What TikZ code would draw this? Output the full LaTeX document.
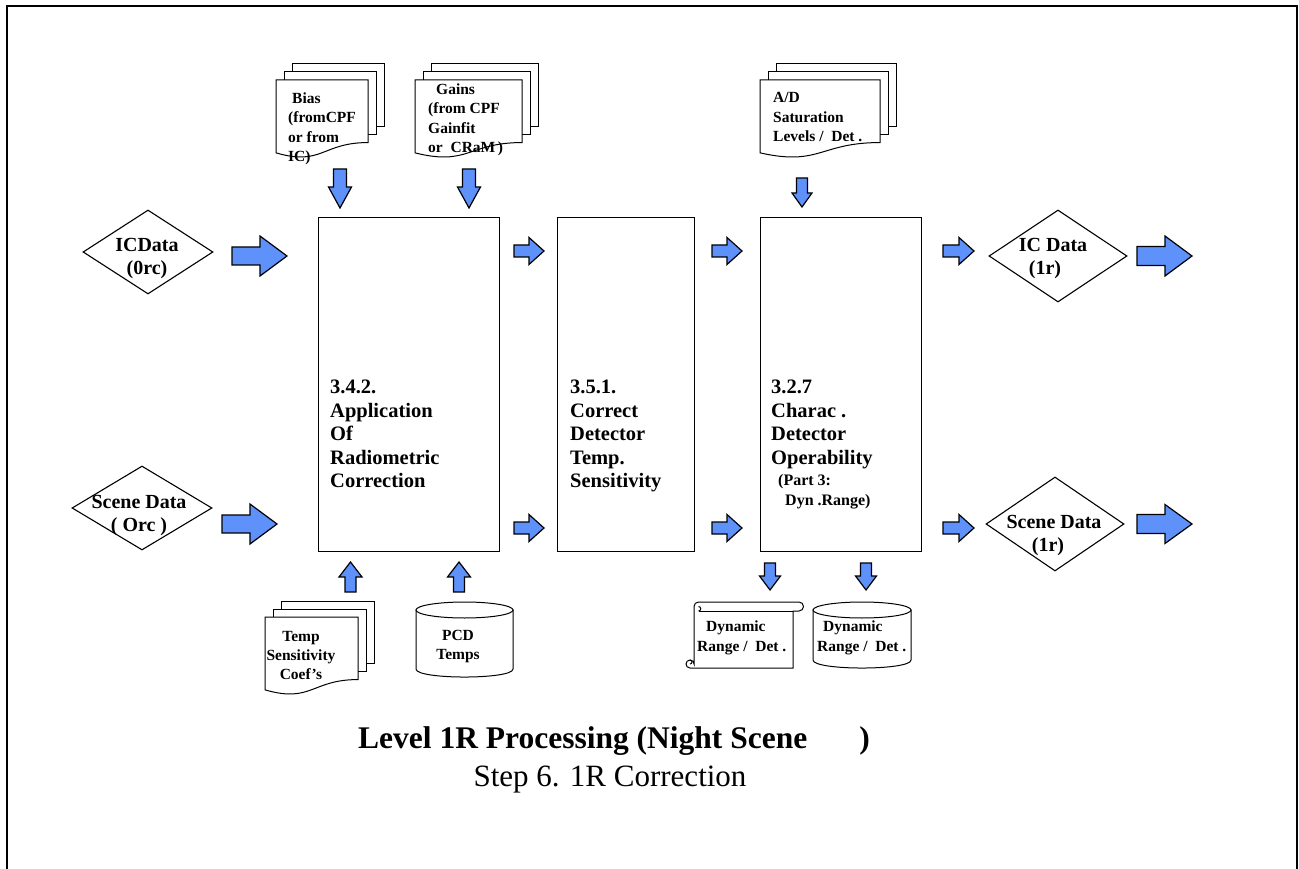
\documentclass[tikz,border=0pt]{standalone}
\usepackage{fontspec}
\setmainfont{Liberation Serif}
\usetikzlibrary{shapes.geometric}
\definecolor{arrowblue}{RGB}{95,145,250}

% block arrows: right, down (tip at bottom), up (tip at top)
% args: x, y (right) / top (down) / tip (up), length, head length, shaft half-width, head half-width
\newcommand{\arrR}[6]{%
  \draw[blockarrow] (#1,{#2-#5}) -- ({#1+#3-#4},{#2-#5}) -- ({#1+#3-#4},{#2-#6}) -- ({#1+#3},#2)
    -- ({#1+#3-#4},{#2+#6}) -- ({#1+#3-#4},{#2+#5}) -- (#1,{#2+#5}) -- cycle;}
\newcommand{\arrD}[6]{%
  \draw[blockarrow] ({#1-#5},#2) -- ({#1+#5},#2) -- ({#1+#5},{#2+#3-#4}) -- ({#1+#6},{#2+#3-#4})
    -- (#1,{#2+#3}) -- ({#1-#6},{#2+#3-#4}) -- ({#1-#5},{#2+#3-#4}) -- cycle;}
\newcommand{\arrU}[6]{%
  \draw[blockarrow] (#1,#2) -- ({#1+#6},{#2+#4}) -- ({#1+#5},{#2+#4}) -- ({#1+#5},{#2+#3})
    -- ({#1-#5},{#2+#3}) -- ({#1-#5},{#2+#4}) -- ({#1-#6},{#2+#4}) -- cycle;}
% stacked document pages: x0, top, width, height, page offset
\newcommand{\multidoc}[5]{%
  \draw[docline] ({#1+2*#5},{#2-2*#5}) rectangle ({#1+#3+2*#5},{#2+0.802*#4-2*#5});
  \draw[docline] ({#1+#5},{#2-#5}) rectangle ({#1+#3+#5},{#2+0.802*#4-#5});
  \draw[docline] (#1,#2) -- ({#1+#3},#2) -- ({#1+#3},{#2+0.802*#4})
    .. controls ({#1+0.5*#3},{#2+0.802*#4}) and ({#1+0.5*#3},{#2+1.107*#4}) .. (#1,{#2+0.934*#4}) -- cycle;}

\tikzset{
  blockarrow/.style={draw=black, line width=1.2, fill=arrowblue, line join=miter},
  procbox/.style={draw, line width=1.3, fill=white, inner sep=0, anchor=north west},
  datadiamond/.style={diamond, draw, line width=1.1, fill=white, inner sep=0},
  docline/.style={draw, line width=1, fill=white},
  boxtext/.style={font=\fontsize{20.5}{23.5}\selectfont\bfseries, align=left, inner sep=0, anchor=north west},
  smallboxtext/.style={font=\fontsize{16}{20}\selectfont\bfseries, align=left, inner sep=0, anchor=north west},
  dtext/.style={font=\fontsize{20}{23}\selectfont\bfseries, align=center, inner sep=0, anchor=north},
  doctext/.style={font=\fontsize{15.5}{19.3}\selectfont\bfseries, align=left, inner sep=0, anchor=north west},
  doctextc/.style={font=\fontsize{15.5}{18.8}\selectfont\bfseries, align=center, inner sep=0, anchor=north},
}

\begin{document}
\begin{tikzpicture}[x=1pt,y=-1pt]
\useasboundingbox (0,0) rectangle (1299,869);
\fill[white] (0,0) rectangle (1299,869);
\draw[line width=2] (7,869) -- (7,6) -- (1297,6) -- (1297,869);

% processing steps
\node[procbox, minimum width=181, minimum height=334] (radcorr) at (318,217) {};
\node[procbox, minimum width=137, minimum height=334] (tempsens) at (557,217) {};
\node[procbox, minimum width=161, minimum height=334] (operab) at (760,217) {};
\node[boxtext] (radcorr-t) at (330,380) {3.4.2.\\Application\\Of\\Radiometric\\Correction};
\node[boxtext] (tempsens-t) at (570,380) {3.5.1.\\Correct\\Detector\\Temp.\\Sensitivity};
\node[boxtext] (operab-t) at (771,380) {3.2.7\\Charac .\\Detector\\Operability};
\node[smallboxtext] (operab-s) at (778,474) {(Part 3:\\\hspace*{7pt}Dyn .Range)};

% data inputs and outputs
\node[datadiamond, minimum width=130, minimum height=84] (icin) at (148,252) {};
\node[datadiamond, minimum width=140, minimum height=84] (scin) at (142,508) {};
\node[datadiamond, minimum width=138, minimum height=92] (icout) at (1058,256) {};
\node[datadiamond, minimum width=138, minimum height=94] (scout) at (1055,524) {};
\node[dtext] (icin-t) at (147,238) {ICData\\(0rc)};
\node[dtext] (scin-t) at (139,495) {Scene Data\\( Orc )};
\node[dtext] (icout-t) at (1053,238) {IC Data\\(1r)\hspace*{16pt}};
\node[dtext] (scout-t) at (1054,515) {Scene Data\\(1r)\hspace*{12pt}};

% flow arrows
\arrR{232}{256}{55}{27}{9}{20}
\arrR{222}{524}{55}{27}{9}{20}
\arrR{1137}{256}{55}{27}{9.5}{20}
\arrR{1137}{524}{55}{27}{9.5}{19.5}
\arrR{514}{251}{30}{15}{6}{13.5}
\arrR{712}{251}{30}{15}{6}{13.5}
\arrR{943}{251}{31}{15}{6}{13.5}
\arrR{514}{528}{30}{15}{6}{13.5}
\arrR{712}{528}{30}{15}{6}{13.5}
\arrR{943}{528}{31}{15}{6}{13.5}

% auxiliary inputs above
\multidoc{276}{80}{92}{78}{8}
\multidoc{415}{80}{107}{78}{8}
\multidoc{760}{80}{120}{78}{8}
\node[doctext] (bias) at (288,92.5) {\hspace*{4pt}Bias\\(fromCPF\\or from\\IC)};
\node[doctext] (gains) at (428,83.5) {\hspace*{8pt}Gains\\(from CPF\\Gainfit\\or\enspace CRaM\,)};
\node[doctext] (adsat) at (773,92.5) {A/D\\Saturation\\Levels /\enspace Det .};
\arrD{340}{169}{39}{21}{6.5}{11.5}
\arrD{469}{169}{39}{21}{6.5}{11.5}
\arrD{802}{178}{29}{14}{5.5}{10}

% auxiliary inputs below
\multidoc{265}{617}{93}{78}{8}
\node[doctextc] (tcoef) at (301,631.5) {Temp\\Sensitivity\\Coef’s};
\draw[docline] (416,610) -- (416,669) .. controls (416,679.7) and (513,679.7) .. (513,669) -- (513,610) -- cycle;
\draw[docline] (464.5,610) ellipse [x radius=48.5, y radius=8];
\node[doctextc] (pcd) at (458,630.5) {PCD\\Temps};
\arrU{350.5}{562}{30}{15}{5.5}{11.5}
\arrU{459}{562}{30}{15}{5.5}{11.5}

% outputs below
\draw[docline] (698.5,602) -- (799,602) arc[start angle=-90, end angle=90, radius=4.5] -- (793,611)
  -- (793,668) -- (690,668) arc[start angle=90, end angle=360, radius=4] -- (694,606.5)
  arc[start angle=180, end angle=270, radius=4.5] -- cycle;
\draw[line width=1] (698.5,611) -- (793,611);
\draw[line width=1] (698.5,611) arc[start angle=90, end angle=-90, radius=2.25];
\draw[line width=1] (690,660) arc[start angle=270, end angle=450, radius=2];
\node[doctext] (dynscroll) at (697,621) {\hspace*{9pt}Dynamic\\Range /\enspace Det .};
\draw[docline] (813,610) -- (813,660) .. controls (813,670.7) and (911,670.7) .. (911,660) -- (911,610) -- cycle;
\draw[docline] (862,610) ellipse [x radius=49, y radius=8];
\node[doctext] (dyncyl) at (817,621) {\hspace*{6pt}Dynamic\\Range /\enspace Det .};
\arrD{770}{563}{27}{14}{5.5}{10.5}
\arrD{866}{563}{27}{14}{5.5}{10.5}

% caption
\node[font=\fontsize{31.5}{36}\selectfont\bfseries, inner sep=0, anchor=base] (title) at (614,748)
  {Level 1R Processing (Night Scene\hspace{52pt})};
\node[font=\fontsize{31}{36}\selectfont, inner sep=0, anchor=base] (subtitle) at (610,786)
  {Step 6. 1R Correction};
\end{tikzpicture}
\end{document}
